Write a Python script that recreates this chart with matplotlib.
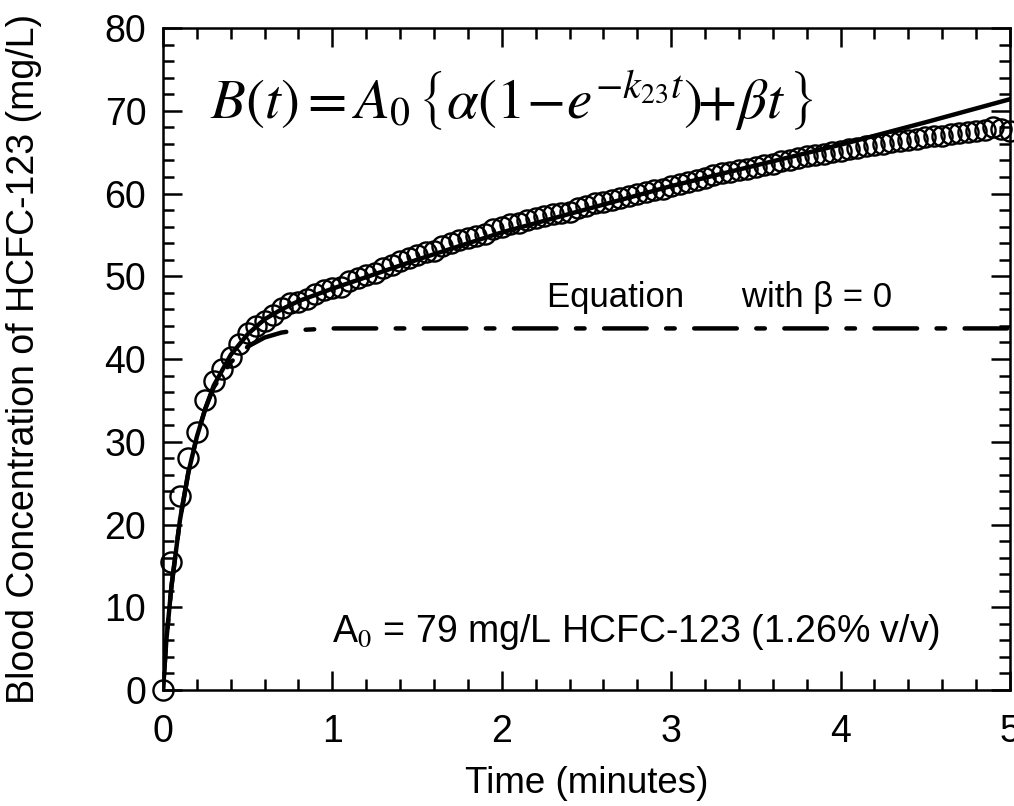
import numpy as np
import matplotlib.pyplot as plt
from matplotlib.ticker import MultipleLocator

plt.rcParams['font.family'] = ['Liberation Sans', 'DejaVu Sans']
plt.rcParams['mathtext.fontset'] = 'stix'
plt.rcParams['lines.scale_dashes'] = False

# measured blood concentration, one sample every 0.05 min (3 s)
sample_step = 0.05
conc = [0.0, 15.5, 23.5, 28.0, 31.2, 35.0, 37.3, 38.8, 40.2, 41.8,
        43.2, 44.0, 44.6, 45.3, 46.2, 46.8, 46.9, 47.3, 47.9, 48.4,
        48.6, 48.7, 49.4, 49.8, 50.2, 50.4, 51.0, 51.4, 51.9, 52.2,
        52.6, 52.9, 53.0, 53.6, 54.0, 54.4, 54.6, 54.9, 55.1, 55.7,
        56.0, 56.3, 56.5, 56.8, 57.0, 57.3, 57.5, 57.6, 57.8, 58.3,
        58.5, 58.9, 59.0, 59.2, 59.5, 59.7, 59.9, 60.2, 60.4, 60.6,
        60.9, 61.1, 61.4, 61.6, 61.9, 62.2, 62.5, 62.6, 62.8, 63.0,
        63.2, 63.4, 63.6, 63.9, 64.1, 64.3, 64.5, 64.6, 64.8, 65.0,
        65.2, 65.4, 65.5, 65.8, 65.9, 66.0, 66.2, 66.3, 66.5, 66.6,
        66.8, 66.9, 67.0, 67.2, 67.3, 67.4, 67.5, 67.7, 68.0, 67.8,
        67.6]
time_min = [i * sample_step for i in range(len(conc))]

# fitted curve (full equation)
fit_t = [0, 0.02, 0.05, 0.1, 0.15, 0.2, 0.25, 0.3, 0.4, 0.5, 0.6, 0.7, 0.8,
         1.0, 1.5, 2.0, 2.5, 3.0, 3.5, 4.0, 4.5, 5.0]
fit_b = [0, 6.0, 12.5, 20.5, 26.3, 30.6, 34.0, 36.8, 40.5, 43.0, 44.8, 46.0,
         47.0, 48.5, 52.0, 55.3, 58.1, 60.9, 63.4, 65.9, 68.6, 71.4]

# fitted curve with beta = 0
nob_t = [0, 0.02, 0.05, 0.1, 0.15, 0.2, 0.25, 0.3, 0.4, 0.5, 0.6, 0.7, 0.8,
         1.0, 5.0]
nob_b = [0, 6.0, 12.5, 20.5, 26.3, 30.6, 34.0, 36.6, 39.6, 41.5, 42.6, 43.2,
         43.5, 43.7, 43.7]

fig = plt.figure(figsize=(10.14, 8.06), dpi=100)
ax = fig.add_axes([0.1607, 0.1439, 0.8353, 0.8213])

ax.plot(time_min, conc, 'o', mfc='none', mec='black', ms=14.5, mew=1.7,
        clip_on=False, zorder=2)
ax.plot(fit_t, fit_b, '-', color='black', lw=3.2, zorder=3)
ax.plot(nob_t, nob_b, color='black', lw=3.2, dashes=(30.7, 14, 6.2, 14),
        dash_capstyle='round', zorder=3)

ax.set_xlim(0, 5)
ax.set_ylim(0, 80)
ax.xaxis.set_major_locator(MultipleLocator(1))
ax.xaxis.set_minor_locator(MultipleLocator(0.2))
ax.yaxis.set_major_locator(MultipleLocator(10))
ax.yaxis.set_minor_locator(MultipleLocator(2))
ax.tick_params(which='both', direction='in', top=True, right=True,
               width=1.8, labelsize=27)
ax.tick_params(which='major', length=14)
ax.tick_params(which='minor', length=8)
ax.tick_params(axis='x', pad=17)
ax.tick_params(axis='y', pad=12)
for s in ax.spines.values():
    s.set_linewidth(1.8)

ax.set_xlabel('Time (minutes)', fontsize=26.5, labelpad=12)
ax.set_ylabel('Blood Concentration of HCFC-123 (mg/L)', fontsize=27)
ax.yaxis.set_label_coords(-0.143, 0.5)

eq = r'$B(t)=A_0\,\left\{\alpha\left(1\!-\!e^{-k_{23}t}\right)\!\!+\!\beta t\,\right\}$'
ax.text(0.28, 71.2, eq, fontsize=41, va='center', ha='left')
ax.text(2.27, 47.4, 'Equation      with \u03b2 = 0', fontsize=25,
        va='center', ha='left')
ax.text(1.0, 7.0, r'A$_0$ = 79 mg/L HCFC-123 (1.26% v/v)', fontsize=27,
        va='center', ha='left')

fig.savefig('out.png', dpi=100)
